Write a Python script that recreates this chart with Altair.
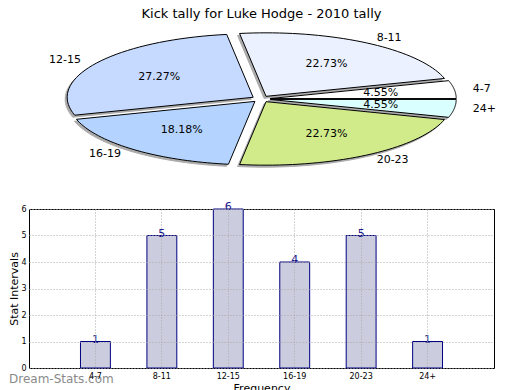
import altair as alt
import pandas as pd

categories = ["4-7", "8-11", "12-15", "16-19", "20-23", "24+"]
counts = [1, 5, 6, 4, 5, 1]
slice_colors = ["#ffffff", "#ebf1ff", "#c6d9ff", "#b4d4ff", "#d1eb8b", "#d9ffff"]
y_ticks = [0, 1, 2, 3, 4, 5, 6]

title_text = "Kick tally for Luke Hodge - 2010 tally"
x_title = "Frequency"
y_title = "Stat Intervals"
watermark = "Dream-Stats.com"

FONT = "DejaVu Sans"

# pie geometry (pixel-like units of the top panel)
CX, CY, RX, RY, EXP = 260, 99, 186, 63.5, 0.05
PX0, PX1 = 28, 493
PY0, PY1 = 22, 196

df = pd.DataFrame({"cat": categories, "count": counts, "idx": list(range(len(categories)))})

xs = alt.Scale(domain=[PX0, PX1], nice=False, zero=False)
ys = alt.Scale(domain=[PY0, PY1], nice=False, zero=False, reverse=True)

base = (
    alt.Chart(df)
    .transform_joinaggregate(total="sum(count)")
    .transform_window(cum="sum(count)", sort=[alt.SortField("idx")], frame=[None, 0])
    .transform_calculate(
        a0="(datum.cum - datum.count) / datum.total * 2 * PI",
        a1="datum.cum / datum.total * 2 * PI",
    )
    .transform_calculate(mid="(datum.a0 + datum.a1) / 2")
)

poly = (
    base.transform_calculate(ks="sequence(0, 43)")
    .transform_flatten(["ks"], as_=["k"])
    .transform_calculate(
        ang="(datum.k == 0 || datum.k == 42) ? datum.mid : datum.a0 + (datum.k - 1) / 40 * (datum.a1 - datum.a0)",
        r="(datum.k == 0 || datum.k == 42) ? 0 : 1",
    )
    .transform_calculate(
        px=f"{CX} + {RX} * ({EXP} * cos(datum.mid) + datum.r * cos(datum.ang))",
        py=f"{CY} - {RY} * ({EXP} * sin(datum.mid) + datum.r * sin(datum.ang))",
    )
)

shadow = poly.transform_calculate(
    sx="datum.px - 2", sy="datum.py + 2"
).mark_line(fill="#888888", stroke="#888888", strokeWidth=1, opacity=0.7).encode(
    x=alt.X("sx:Q", scale=xs, axis=None),
    y=alt.Y("sy:Q", scale=ys, axis=None),
    detail="cat:N",
    order="k:Q",
)

slices = poly.mark_line(stroke="black", strokeWidth=1).encode(
    x=alt.X("px:Q", scale=xs, axis=None),
    y=alt.Y("py:Q", scale=ys, axis=None),
    fill=alt.Fill("cat:N", scale=alt.Scale(domain=categories, range=slice_colors), legend=None),
    detail="cat:N",
    order="k:Q",
)

pct = base.transform_calculate(
    lx=f"{CX} + {RX} * ({EXP} + 0.6) * cos(datum.mid)",
    ly=f"{CY} - {RY} * ({EXP} + 0.6) * sin(datum.mid)",
    txt="format(datum.count / datum.total * 100, '.2f') + '%'",
).mark_text(font=FONT, fontSize=11, color="black").encode(
    x=alt.X("lx:Q", scale=xs, axis=None),
    y=alt.Y("ly:Q", scale=ys, axis=None),
    text="txt:N",
)

lab = base.transform_calculate(
    lx=f"{CX} + {RX} * ({EXP} + 1.1) * cos(datum.mid)",
    ly=f"{CY} - {RY} * ({EXP} + 1.1) * sin(datum.mid)",
    c="cos(datum.mid)",
)
lab_r = lab.transform_filter("datum.c >= 0").mark_text(font=FONT, fontSize=11, align="left", color="black").encode(
    x=alt.X("lx:Q", scale=xs, axis=None), y=alt.Y("ly:Q", scale=ys, axis=None), text="cat:N"
)
lab_l = lab.transform_filter("datum.c < 0").mark_text(font=FONT, fontSize=11, align="right", color="black").encode(
    x=alt.X("lx:Q", scale=xs, axis=None), y=alt.Y("ly:Q", scale=ys, axis=None), text="cat:N"
)

pie = alt.layer(shadow, slices, pct, lab_r, lab_l).properties(
    width=PX1 - PX0,
    height=PY1 - PY0,
    view=alt.ViewBackground(stroke=None),
    title=alt.TitleParams(title_text, font=FONT, fontSize=13, fontWeight="normal", anchor="middle", offset=1, color="black"),
)

grid_kw = dict(grid=True, gridColor="#a8a8a8", gridDash=[1, 2], gridWidth=1)

xenc = alt.X(
    "cat:N",
    sort=categories,
    scale=alt.Scale(paddingInner=0.55, paddingOuter=0.775),
    axis=alt.Axis(
        title=x_title, titleFont=FONT, titleFontSize=11, titleFontWeight="normal", titleColor="black",
        labelFont=FONT, labelFontSize=8, labelColor="black", labelAngle=0, labelPadding=4,
        domain=False, ticks=False, bandPosition=0.5, zindex=1, titlePadding=2, **grid_kw,
    ),
)
yenc = alt.Y(
    "count:Q",
    scale=alt.Scale(domain=[0, 6], nice=False),
    axis=alt.Axis(
        title=y_title, titleFont=FONT, titleFontSize=11, titleFontWeight="normal", titleColor="black",
        labelFont=FONT, labelFontSize=8, labelColor="black", values=y_ticks, tickCount=len(y_ticks),
        labelOverlap=False, domain=False, ticks=False, zindex=1, labelPadding=3, titlePadding=1,
        **grid_kw,
    ),
)

bars = alt.Chart(df).mark_bar(fill="#ccccdf", stroke="#000080", strokeWidth=1).encode(x=xenc, y=yenc)
vals = alt.Chart(df).mark_text(font=FONT, fontSize=11, color="#1a1a8c", baseline="alphabetic", dy=1).encode(
    x=xenc, y=yenc, text="count:Q"
)
wm = alt.Chart(pd.DataFrame({"t": [watermark]})).mark_text(
    font=FONT, fontSize=12, color="#8a8a8a", align="left", baseline="middle"
).encode(x=alt.value(-20), y=alt.value(170), text="t:N")

barchart = alt.layer(bars, vals, wm).properties(
    width=PX1 - PX0, height=159, view=alt.ViewBackground(stroke="black", strokeWidth=1)
)

chart = alt.vconcat(pie, barchart, spacing=4).properties(padding=0).configure(
    font=FONT, background="white"
)

chart.save("out.html", embed_options={"renderer": "svg", "actions": False})
